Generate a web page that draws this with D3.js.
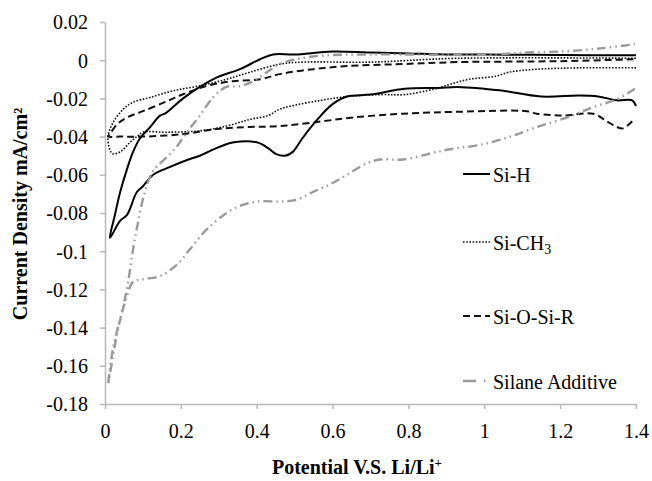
<!DOCTYPE html>
<html>
<head>
<meta charset="utf-8">
<script src="https://cdn.jsdelivr.net/npm/d3@7/dist/d3.min.js"></script>
<style>
    body { margin: 0; background: #fff; }
    svg { display: block; }
    svg text { font-family: "Liberation Serif", "DejaVu Serif", serif; fill: #000; }
</style>
</head>
<body>
<div id="chart"></div>
<script>
// x: potential (V vs Li/Li+), y: current density (mA/cm2)
// each curve: cathodic branch (right -> left) then anodic branch (left -> right)
const siH = [
    [1.4, -0.024], [1.39, -0.021], [1.35, -0.021], [1.3, -0.019], [1.25, -0.0185],
    [1.15, -0.019], [1.05, -0.016], [1.0, -0.015], [0.93, -0.014], [0.88, -0.0145],
    [0.79, -0.015], [0.70, -0.018], [0.638, -0.019], [0.60, -0.023], [0.56, -0.031],
    [0.52, -0.041], [0.495, -0.048], [0.475, -0.050], [0.45, -0.049], [0.43, -0.046],
    [0.40, -0.043], [0.34, -0.043], [0.30, -0.0455], [0.25, -0.050], [0.22, -0.052],
    [0.17, -0.056], [0.127, -0.060], [0.10, -0.066], [0.084, -0.069], [0.058, -0.081],
    [0.04, -0.084], [0.013, -0.093],
    [0.025, -0.082], [0.04, -0.069], [0.058, -0.057], [0.074, -0.048], [0.092, -0.041],
    [0.119, -0.035], [0.145, -0.029], [0.158, -0.028], [0.206, -0.020], [0.25, -0.014],
    [0.295, -0.009], [0.356, -0.0047], [0.409, 0.0005], [0.443, 0.003], [0.5, 0.003],
    [0.6, 0.0045], [0.7, 0.004], [0.8, 0.0035], [0.9, 0.003], [1.0, 0.003],
    [1.2, 0.0027], [1.4, 0.0026]
];

const siCH3 = [
    [1.4, -0.004], [1.25, -0.004], [1.14, -0.0047], [1.08, -0.0058], [1.06, -0.0065],
    [1.03, -0.0084], [0.96, -0.010], [0.91, -0.0126], [0.87, -0.015], [0.79, -0.018],
    [0.73, -0.018], [0.64, -0.019], [0.57, -0.021], [0.49, -0.024], [0.46, -0.0257],
    [0.43, -0.029], [0.382, -0.031], [0.32, -0.0345], [0.25, -0.037], [0.163, -0.0377],
    [0.10, -0.0377], [0.084, -0.040], [0.066, -0.043], [0.04, -0.048], [0.021, -0.049],
    [0.013, -0.047], [0.008, -0.040],
    [0.021, -0.0327], [0.048, -0.0257], [0.074, -0.022], [0.119, -0.0195], [0.18, -0.016],
    [0.25, -0.0134], [0.32, -0.010], [0.382, -0.0063], [0.46, -0.0021], [0.52, -0.001],
    [0.7, -0.001], [0.93, 0.001], [1.4, 0.001]
];

const siOSiR = [
    [1.39, -0.032], [1.366, -0.0357], [1.35, -0.035], [1.323, -0.032], [1.287, -0.028],
    [1.208, -0.029], [1.139, -0.028], [1.113, -0.0267], [0.93, -0.027], [0.786, -0.028],
    [0.654, -0.030], [0.549, -0.0326], [0.46, -0.0345], [0.38, -0.035], [0.295, -0.036],
    [0.206, -0.0387], [0.10, -0.040], [0.04, -0.040], [0.008, -0.040],
    [0.013, -0.0387], [0.032, -0.0335], [0.058, -0.030], [0.10, -0.0267], [0.163, -0.0215],
    [0.206, -0.0178], [0.269, -0.0134], [0.337, -0.011], [0.409, -0.010], [0.46, -0.0073],
    [0.549, -0.0047], [0.637, -0.0031], [0.786, -0.002], [0.93, -0.001], [1.2, -0.0005],
    [1.4, 0.0005]
];

const silaneAdditive = [
    [1.397, -0.015], [1.35, -0.0204], [1.287, -0.0246], [1.218, -0.030], [1.139, -0.035],
    [1.068, -0.040], [0.997, -0.044], [0.91, -0.0466], [0.875, -0.048], [0.786, -0.052],
    [0.725, -0.052], [0.69, -0.054], [0.638, -0.060], [0.593, -0.065], [0.548, -0.069],
    [0.506, -0.073], [0.461, -0.074], [0.40, -0.074], [0.337, -0.078], [0.269, -0.0885],
    [0.224, -0.099], [0.19, -0.107], [0.145, -0.113], [0.10, -0.1147], [0.074, -0.116],
    [0.058, -0.1236], [0.04, -0.1356], [0.021, -0.151], [0.008, -0.170],
    [0.021, -0.155], [0.034, -0.141], [0.048, -0.129], [0.061, -0.116], [0.074, -0.099],
    [0.087, -0.085], [0.105, -0.069], [0.127, -0.058], [0.167, -0.050], [0.19, -0.045],
    [0.216, -0.0377], [0.25, -0.029], [0.285, -0.0195], [0.32, -0.014], [0.356, -0.0136],
    [0.39, -0.011], [0.427, -0.0063], [0.46, -0.002], [0.55, 0.002], [0.7, 0.003],
    [0.9, 0.0028], [1.0, 0.0028], [1.113, 0.004], [1.218, 0.0047], [1.313, 0.0063],
    [1.397, 0.0084]
];

const xTicks = [0, 0.2, 0.4, 0.6, 0.8, 1, 1.2, 1.4];
const xTickLabels = ["0", "0.2", "0.4", "0.6", "0.8", "1", "1.2", "1.4"];
const yTicks = [0.02, 0, -0.02, -0.04, -0.06, -0.08, -0.1, -0.12, -0.14, -0.16, -0.18];
const yTickLabels = ["0.02", "0", "-0.02", "-0.04", "-0.06", "-0.08", "-0.1", "-0.12", "-0.14", "-0.16", "-0.18"];
const seriesNames = ["Si-H", "Si-CH3", "Si-O-Si-R", "Silane Additive"];

const width = 652;
const height = 481;
const margin = { top: 22, right: 16, bottom: 77, left: 105 };
const serif = "'Liberation Serif', 'DejaVu Serif', serif";

const series = [
    { name: seriesNames[0], data: siH, color: "#000", width: 2, dash: null },
    { name: seriesNames[1], data: siCH3, color: "#111", width: 1.6, dash: "1.6,1.6" },
    { name: seriesNames[2], data: siOSiR, color: "#111", width: 2, dash: "7,4" },
    { name: seriesNames[3], data: silaneAdditive, color: "#9a9a9a", width: 2.4, dash: "9,4,1.5,4,1.5,4" }
];

const svg = d3.select("#chart").append("svg")
    .attr("width", width)
    .attr("height", height)
    .attr("font-family", serif);

const x = d3.scaleLinear()
    .domain([0, 1.4])
    .range([margin.left, width - margin.right]);

const y = d3.scaleLinear()
    .domain([-0.18, 0.02])
    .range([height - margin.bottom, margin.top]);

// 坐标轴
const xAxis = svg.append("g")
    .attr("transform", `translate(0,${y(-0.18)})`)
    .call(d3.axisBottom(x).tickValues(xTicks).tickSize(5).tickSizeOuter(0)
        .tickFormat((d, i) => xTickLabels[i]));

const yAxis = svg.append("g")
    .attr("transform", `translate(${x(0)},0)`)
    .call(d3.axisLeft(y).tickValues(yTicks).tickSize(5).tickSizeOuter(0)
        .tickFormat((d, i) => yTickLabels[i]));

[xAxis, yAxis].forEach(ax => {
    ax.attr("font-family", serif).attr("font-size", 20);
    ax.select(".domain").attr("stroke", "#b8b8b8").attr("stroke-width", 1.5);
    ax.selectAll(".tick line").attr("stroke", "#b8b8b8").attr("stroke-width", 1.5);
    ax.selectAll(".tick text").attr("fill", "#000");
});
xAxis.selectAll(".tick text").attr("y", 34).attr("dy", 0);
yAxis.selectAll(".tick text").attr("x", -17).attr("dy", "0.34em");

// 曲线
const line = d3.line()
    .x(d => x(d[0]))
    .y(d => y(d[1]))
    .curve(d3.curveCatmullRom.alpha(0.5));

svg.append("g")
    .selectAll("path")
    .data(series)
    .enter()
    .append("path")
    .attr("d", d => line(d.data))
    .attr("fill", "none")
    .attr("stroke", d => d.color)
    .attr("stroke-width", d => d.width)
    .attr("stroke-dasharray", d => d.dash)
    .attr("stroke-linejoin", "round");

// 图例
const legendY = [174, 242, 316, 381];
const legend = svg.append("g").attr("class", "legend");
series.forEach((s, i) => {
    const g = legend.append("g").attr("transform", `translate(463,${legendY[i]})`);
    g.append("line")
        .attr("x1", 0).attr("x2", s.name === "Silane Additive" ? 24 : 27)
        .attr("stroke", s.color)
        .attr("stroke-width", s.width)
        .attr("stroke-dasharray", s.name === "Silane Additive" ? "13,8,1.5,4" : s.dash);
    const t = g.append("text")
        .attr("x", 30)
        .attr("y", 8)
        .attr("font-size", 20);
    if (s.name === "Si-CH3") {
        t.append("tspan").text("Si-CH");
        t.append("tspan").attr("dy", 4).attr("font-size", 14).text("3");
    } else {
        t.text(s.name);
    }
});

// 轴标题
svg.append("text")
    .attr("x", 357)
    .attr("y", 474)
    .attr("text-anchor", "middle")
    .attr("font-size", 20)
    .attr("font-weight", "bold")
    .call(t => {
        t.append("tspan").text("Potential V.S. Li/Li");
        t.append("tspan").attr("dy", -7).attr("font-size", 13).text("+");
    });

svg.append("text")
    .attr("transform", "translate(27,214) rotate(-90)")
    .attr("text-anchor", "middle")
    .attr("font-size", 20)
    .attr("font-weight", "bold")
    .text("Current Density mA/cm²");
</script>
</body>
</html>
